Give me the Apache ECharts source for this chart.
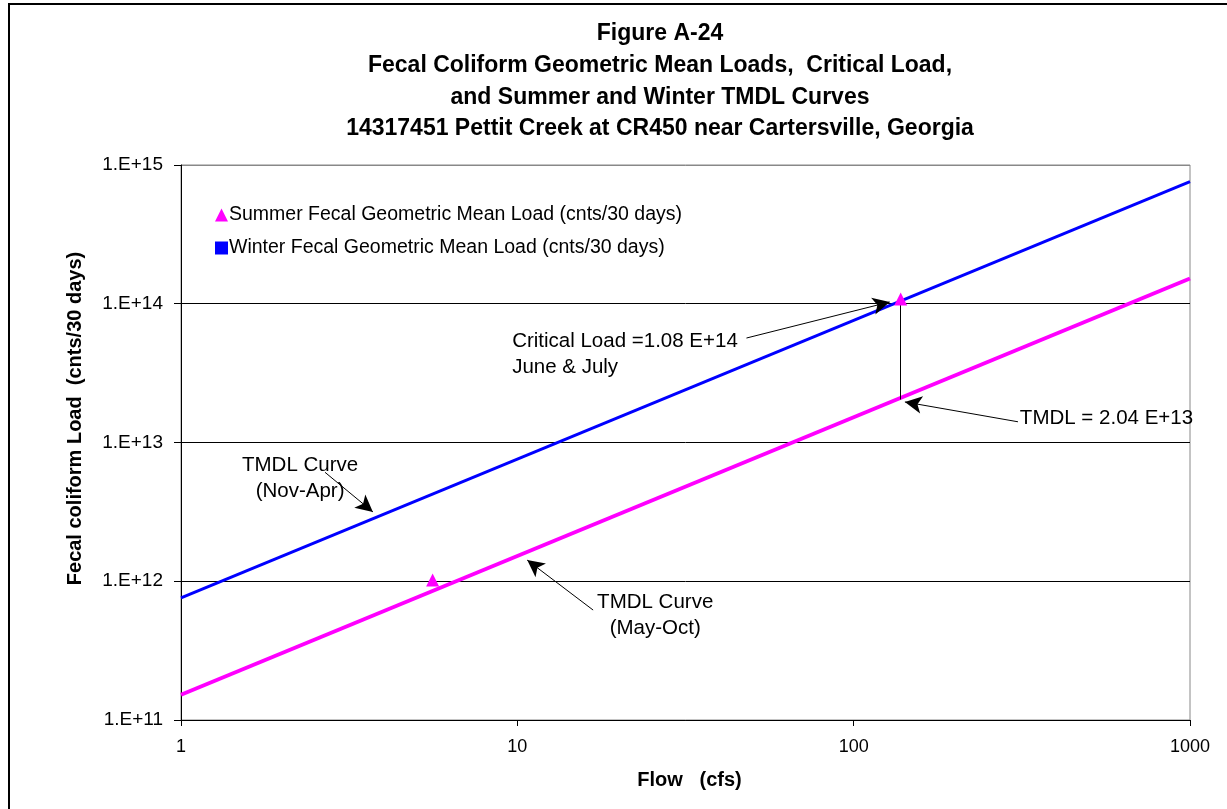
<!DOCTYPE html>
<html>
<head>
<meta charset="utf-8">
<script src="https://cdn.jsdelivr.net/npm/echarts@6/dist/echarts.min.js"></script>
<style>html,body{margin:0;padding:0;background:#fff}#c{width:1227px;height:809px}</style>
</head>
<body>
<div id="c"></div>
<script>
// ---- data ----
const titleLines = [
  'Figure A-24',
  'Fecal Coliform Geometric Mean Loads,  Critical Load,',
  'and Summer and Winter TMDL Curves',
  '14317451 Pettit Creek at CR450 near Cartersville, Georgia'
];
const xAxisName = 'Flow   (cfs)';
const yAxisName = 'Fecal coliform Load  (cnts/30 days)';
const flowEnds = [1, 1000];
const winterTmdlLoads = [7.6e11, 7.6e14];
const summerTmdlLoads = [1.52e11, 1.52e14];
const summerFlows = [5.6, 138];
const summerLoads = [1.02e12, 1.08e14];
const winterFlows = [];
const winterLoads = [];
const criticalFlow = 138;
const criticalLoad = 1.08e14;
const tmdlLoad = 2.04e13;
const summerName = 'Summer Fecal Geometric Mean Load (cnts/30 days)';
const winterName = 'Winter Fecal Geometric Mean Load (cnts/30 days)';
// annotation arrows: [flow, load] from -> to
const arrowFrom = [[48, 5.66e13], [308, 1.41e13], [2.68, 6.1e12], [16.8, 6.2e11]];
const arrowTo = [[128, 1.03e14], [142, 1.96e13], [3.72, 3.16e12], [10.7, 1.42e12]];
const noteTexts = ['Critical Load =1.08 E+14\nJune & July', 'TMDL = 2.04 E+13', 'TMDL Curve\n(Nov-Apr)', 'TMDL Curve\n(May-Oct)'];
const notePos = [[9.65, 4.35e13], [312, 1.5e13], [2.26, 5.5e12], [25.7, 5.66e11]];
const noteAlign = ['left', 'left', 'center', 'center'];

// ---- chart ----
const chart = echarts.init(document.getElementById('c'));
const FONT = 'Liberation Sans';
const pairs = (xs, ys) => xs.map((x, i) => [x, ys[i]]);

chart.setOption({
  animation: false,
  backgroundColor: '#fff',
  textStyle: { fontFamily: FONT, color: '#000' },
  title: {
    text: titleLines.join('\n'),
    left: 655, top: 13, textAlign: 'center',
    textStyle: { fontFamily: FONT, fontWeight: 'bold', fontSize: 23, lineHeight: 31.7, color: '#000' }
  },
  graphic: [{
    type: 'rect', shape: { x: 9, y: 4, width: 1400, height: 1000 },
    style: { fill: 'none', stroke: '#000', lineWidth: 2 }, silent: true
  }],
  legend: {
    orient: 'vertical', left: 210, top: 200, itemGap: 13,
    itemWidth: 13, itemHeight: 13, itemStyle: { borderWidth: 0, opacity: 1 },
    textStyle: { fontFamily: FONT, fontSize: 19.5, color: '#000', padding: [0, 0, 0, -4] },
    data: [summerName, winterName]
  },
  grid: { left: 181, right: 37, top: 165, bottom: 89, show: true, borderColor: '#888', borderWidth: 1 },
  xAxis: {
    type: 'log', logBase: 10, min: 1, max: 1000,
    name: xAxisName, nameLocation: 'middle', nameGap: 50,
    nameTextStyle: { fontFamily: FONT, fontWeight: 'bold', fontSize: 20, color: '#000', padding: [0, 0, 0, 8] },
    axisLine: { lineStyle: { color: '#000', width: 1 } },
    axisTick: { show: true, length: 6, lineStyle: { color: '#000' } },
    minorTick: { show: false },
    axisLabel: { fontFamily: FONT, fontSize: 18, color: '#000', margin: 18, formatter: v => String(v) },
    splitLine: { show: false }
  },
  yAxis: {
    type: 'log', logBase: 10, min: 1e11, max: 1e15,
    name: yAxisName, nameLocation: 'middle', nameGap: 96, nameRotate: 90,
    nameTextStyle: { fontFamily: FONT, fontWeight: 'bold', fontSize: 20, color: '#000', padding: [0, 0, 0, 48] },
    axisLine: { show: true, lineStyle: { color: '#000', width: 1 } },
    axisTick: { show: true, length: 7, lineStyle: { color: '#000' } },
    axisLabel: {
      fontFamily: FONT, fontSize: 19, color: '#000', margin: 18,
      formatter: v => '1.E+' + Math.round(Math.log10(v))
    },
    splitLine: { show: true, lineStyle: { color: ['#000', '#000', '#000', '#000', '#888'], width: 1 } }
  },
  series: [
    {
      name: 'Winter TMDL', type: 'line', data: pairs(flowEnds, winterTmdlLoads),
      showSymbol: false, lineStyle: { color: '#0000ff', width: 3 }, itemStyle: { color: '#0000ff' }, z: 3
    },
    {
      name: 'Summer TMDL', type: 'line', data: pairs(flowEnds, summerTmdlLoads),
      showSymbol: false, lineStyle: { color: '#ff00ff', width: 4 }, itemStyle: { color: '#ff00ff' }, z: 3
    },
    {
      name: summerName, type: 'scatter', symbol: 'triangle', symbolSize: 13,
      data: pairs(summerFlows, summerLoads), itemStyle: { color: '#ff00ff', opacity: 1 }, z: 5
    },
    {
      name: winterName, type: 'scatter', symbol: 'rect', symbolSize: 11,
      data: pairs(winterFlows, winterLoads), itemStyle: { color: '#0000ff', opacity: 1 }, z: 5
    },
    {
      name: 'annotations', type: 'scatter', symbolSize: 0, z: 6,
      itemStyle: { opacity: 1 },
      data: notePos.map((p, i) => ({
        value: p,
        label: {
          show: true, formatter: noteTexts[i], position: [0, 0],
          align: noteAlign[i], verticalAlign: 'middle', opacity: 1,
          fontFamily: FONT, fontSize: 20.5, lineHeight: 26, color: '#000'
        }
      })),
      markLine: {
        silent: true, animation: false,
        symbol: ['none', 'arrow'], symbolSize: [13, 17],
        label: { show: false },
        lineStyle: { color: '#000', width: 1, type: 'solid', opacity: 1 },
        data: arrowFrom.map((f, i) => [{ coord: f }, { coord: arrowTo[i] }]).concat([
          [{ coord: [criticalFlow, criticalLoad], symbol: 'none' }, { coord: [criticalFlow, tmdlLoad], symbol: 'none' }]
        ])
      }
    }
  ]
});
</script>
</body>
</html>
